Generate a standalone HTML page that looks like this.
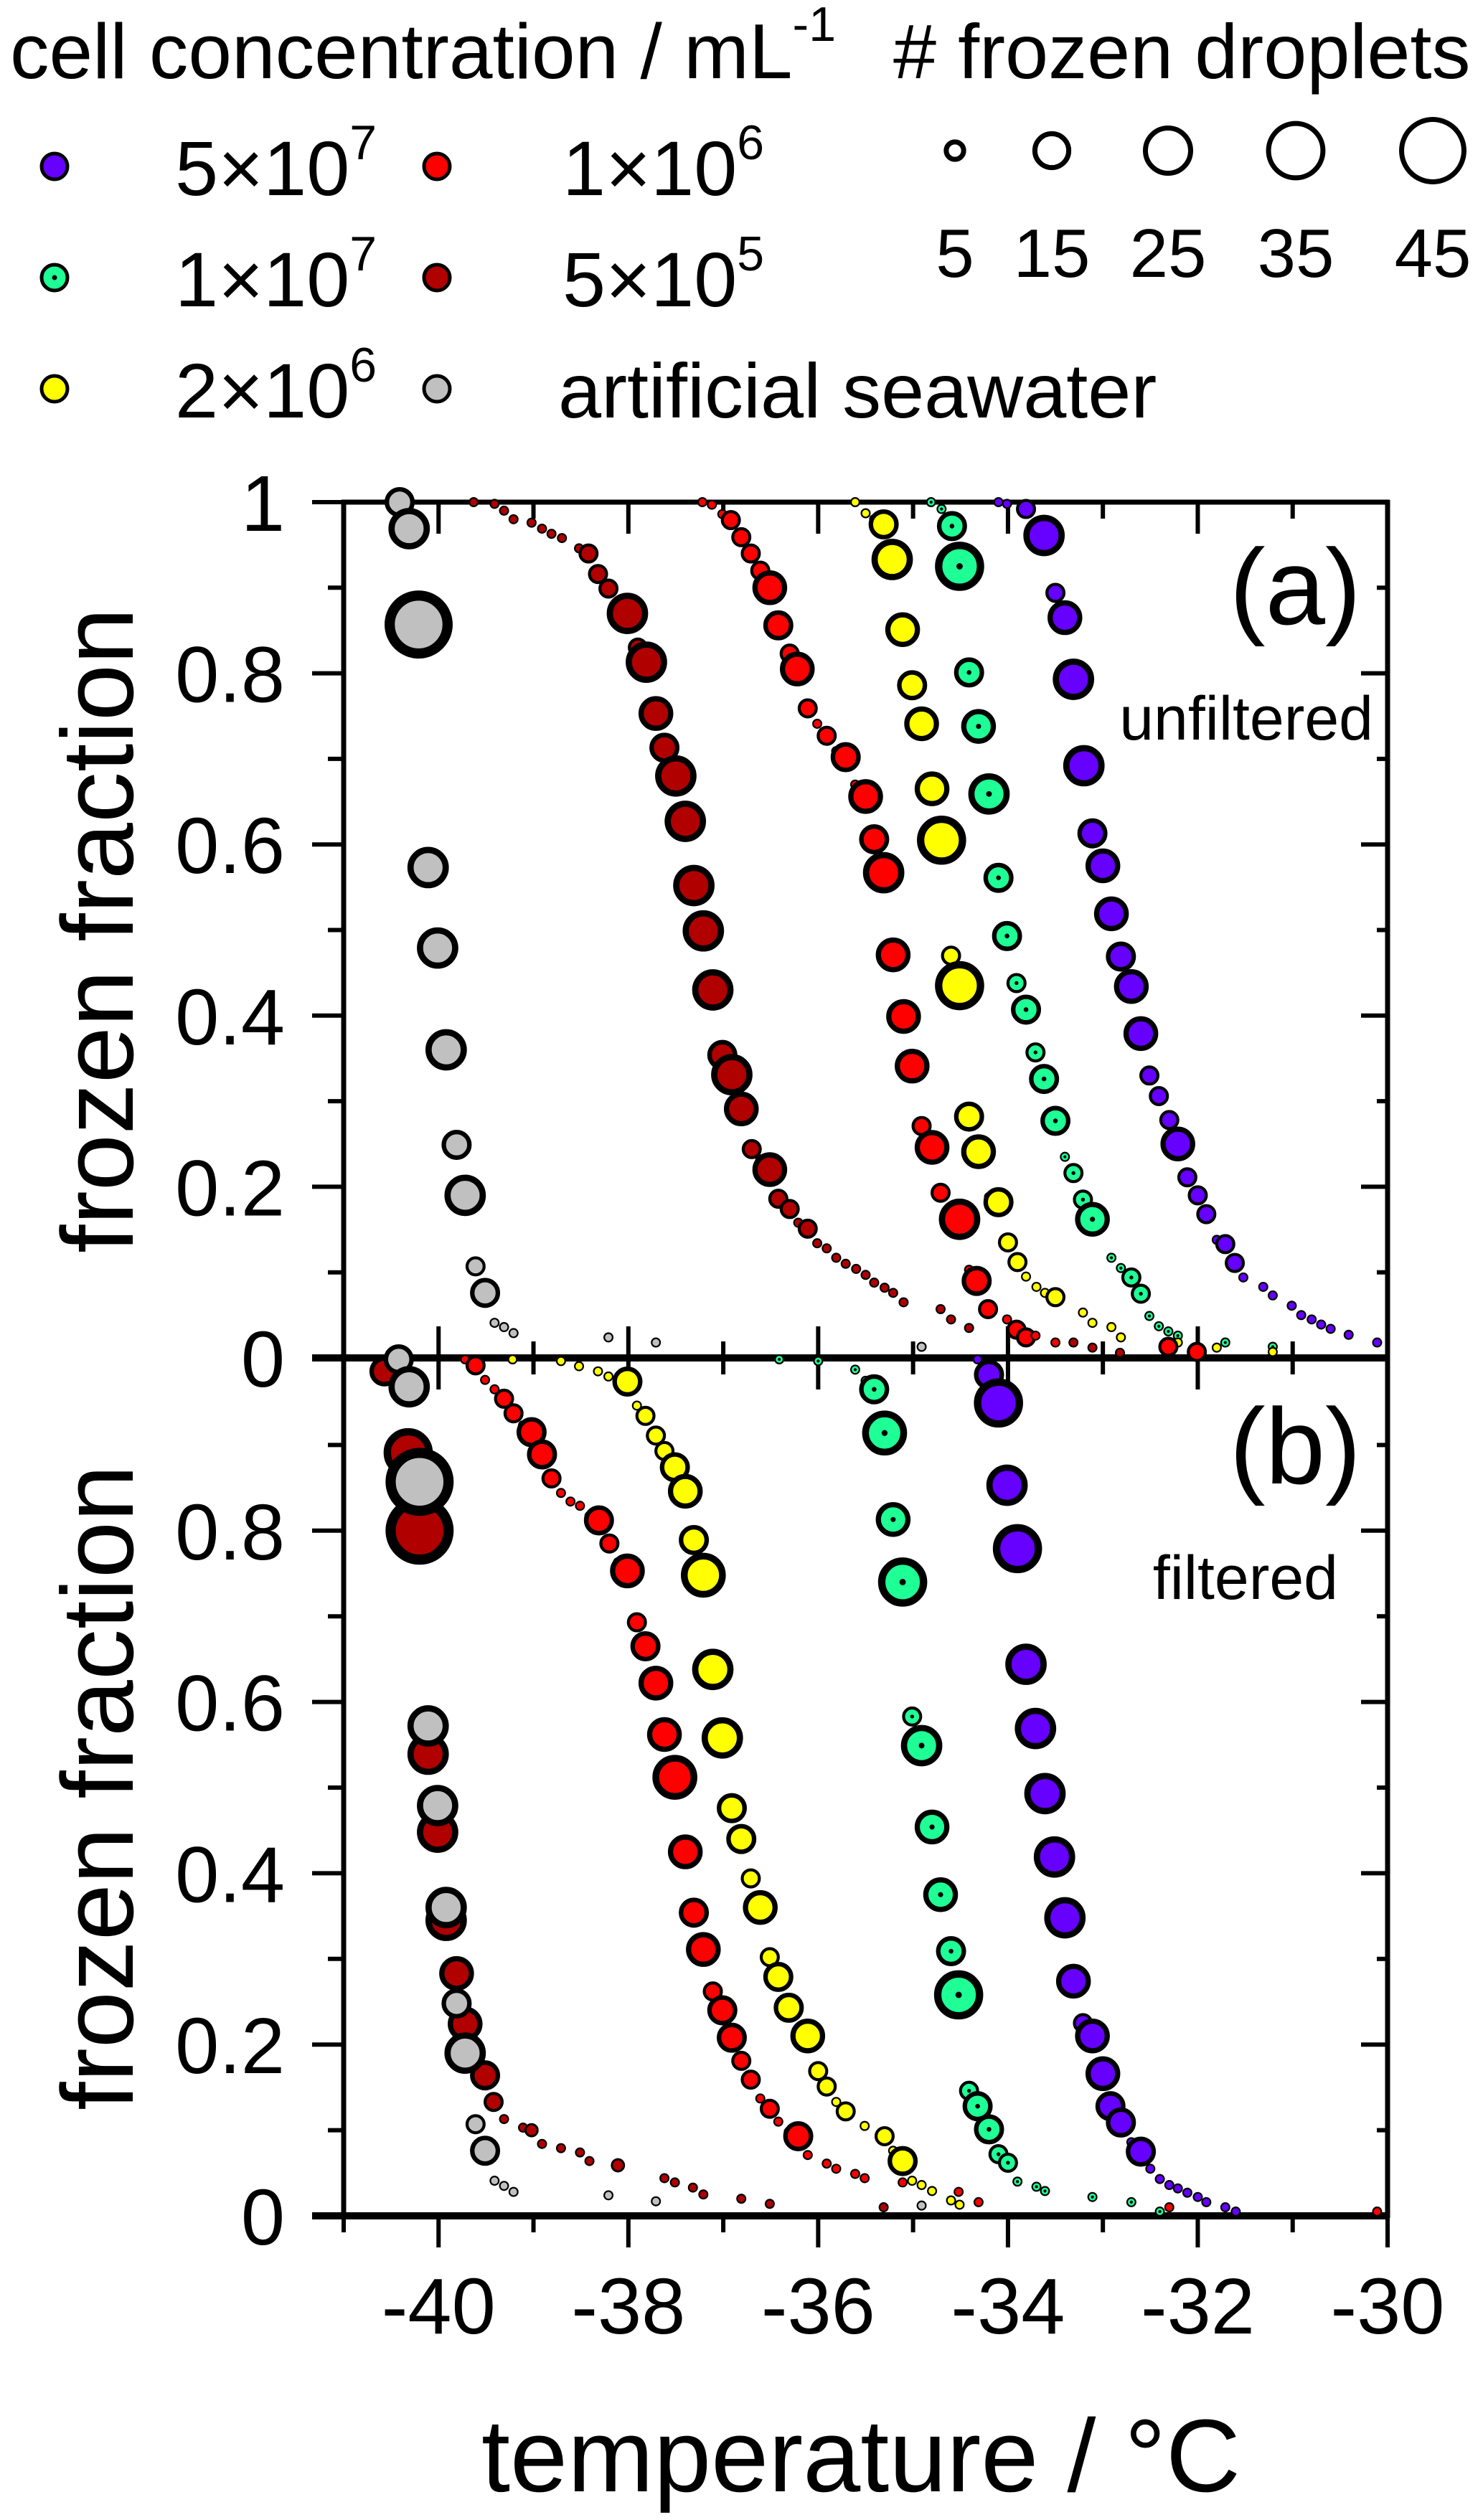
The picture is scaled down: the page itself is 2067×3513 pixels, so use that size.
<!DOCTYPE html>
<html><head><meta charset="utf-8"><style>
html,body{margin:0;padding:0;background:#fff;}
svg{display:block;font-family:"Liberation Sans",Arial,sans-serif;}
</style></head><body>
<svg id="chart" width="2067" height="3513" viewBox="0 0 2067 3513" xmlns="http://www.w3.org/2000/svg">
<rect width="2067" height="3513" fill="#fff"/>
<g id="legend">
 <text x="14" y="109" font-size="109">cell concentration / mL<tspan font-size="68" dy="-52">-1</tspan></text>
 <text x="1245" y="109" font-size="108"># frozen droplets</text>
 <g font-size="108">
  <circle cx="76" cy="232" r="18" fill="#6600ff" stroke="#000" stroke-width="5"/>
  <text x="244" y="272">5×10<tspan font-size="68" dy="-50">7</tspan></text>
  <circle cx="76" cy="387" r="18" fill="#1eff96" stroke="#000" stroke-width="5"/>
  <circle cx="76" cy="387" r="3.5" fill="#000"/>
  <text x="244" y="427">1×10<tspan font-size="68" dy="-50">7</tspan></text>
  <circle cx="76" cy="542" r="18" fill="#ffff00" stroke="#000" stroke-width="5"/>
  <text x="244" y="582">2×10<tspan font-size="68" dy="-50">6</tspan></text>
  <circle cx="609" cy="232" r="18" fill="#ff0000" stroke="#000" stroke-width="5"/>
  <text x="784" y="272">1×10<tspan font-size="68" dy="-50">6</tspan></text>
  <circle cx="609" cy="387" r="18" fill="#b00000" stroke="#000" stroke-width="5"/>
  <text x="784" y="427">5×10<tspan font-size="68" dy="-50">5</tspan></text>
  <circle cx="609" cy="542" r="18" fill="#c0c0c0" stroke="#000" stroke-width="5"/>
  <text x="778" y="582">artificial seawater</text>
 </g>
 <g id="sizeLegend" font-size="96" text-anchor="middle"></g>
</g>
<g id="axes"></g>
<g id="marks"></g>
<text x="1897" y="870" font-size="150" text-anchor="end">(a)</text>
<text x="1914" y="1031" font-size="86" text-anchor="end">unfiltered</text>
<text x="1897" y="2068" font-size="150" text-anchor="end">(b)</text>
<text x="1865" y="2229" font-size="86" text-anchor="end">filtered</text>
<text transform="translate(185,1297) rotate(-90)" font-size="142" text-anchor="middle">frozen fraction</text>
<text transform="translate(185,2492) rotate(-90)" font-size="142" text-anchor="middle">frozen fraction</text>
<text x="1200" y="3473" font-size="144" text-anchor="middle">temperature / °C</text>
</svg>
<script>
// ---- data ----
const sizeLegendCounts = [5, 15, 25, 35, 45];
const xTickLabels = ["-40", "-38", "-36", "-34", "-32", "-30"];
const yTickLabelsA = ["0", "0.2", "0.4", "0.6", "0.8", "1"];
const yTickLabelsB = ["0", "0.2", "0.4", "0.6", "0.8"];

// panel (a) unfiltered
const purpleA_T = [-34.10,-34.01,-33.81,-33.70,-33.62,-33.50,-33.40,-33.31,-33.20,-33.11,-33.00,-32.91,-32.81,-32.70,-32.60,-32.51,-32.41,-32.30,-32.21,-32.11,-32.00,-31.91,-31.80,-31.71,-31.61,-31.52,-31.31,-31.21,-31.01,-30.91,-30.80,-30.70,-30.60,-30.41,-30.11];
const purpleA_F = [1.0,0.998,0.992,0.971,0.961,0.894,0.865,0.793,0.692,0.613,0.575,0.519,0.469,0.434,0.379,0.33,0.306,0.278,0.25,0.211,0.19,0.168,0.138,0.133,0.111,0.094,0.083,0.073,0.061,0.05,0.045,0.039,0.034,0.027,0.018];
const purpleA_N = [1,1,4,1,17,4,12,17,17,9,12,12,9,12,12,4,4,4,12,4,4,4,1,4,4,1,1,1,1,1,1,1,1,1,1];
const greenA_T = [-34.81,-34.70,-34.59,-34.51,-34.41,-34.31,-34.20,-34.10,-34.01,-33.91,-33.81,-33.71,-33.62,-33.50,-33.40,-33.31,-33.21,-33.11,-32.91,-32.81,-32.70,-32.60,-32.51,-32.41,-32.31,-32.21,-31.71,-31.21];
const greenA_F = [1.0,0.992,0.972,0.925,0.801,0.738,0.659,0.561,0.493,0.438,0.407,0.357,0.326,0.277,0.235,0.216,0.185,0.162,0.117,0.105,0.094,0.075,0.049,0.037,0.031,0.026,0.018,0.013];
const greenA_N = [1,1,9,24,9,12,17,9,9,4,9,4,9,9,1,4,4,12,1,1,4,4,1,1,1,1,1,1];
const yellowA_T = [-35.61,-35.50,-35.41,-35.31,-35.22,-35.11,-35.01,-34.91,-34.80,-34.70,-34.60,-34.51,-34.41,-34.31,-34.20,-34.10,-34.00,-33.90,-33.81,-33.70,-33.61,-33.50,-33.21,-33.11,-32.91,-32.81,-32.21,-31.80,-31.21];
const yellowA_F = [1.0,0.987,0.98,0.974,0.933,0.851,0.786,0.741,0.665,0.605,0.47,0.435,0.282,0.241,0.188,0.182,0.135,0.112,0.095,0.083,0.076,0.071,0.053,0.041,0.036,0.024,0.018,0.012,0.007];
const yellowA_N = [1,1,1,9,17,12,9,12,12,24,4,24,9,12,1,9,4,4,1,1,1,4,1,1,1,1,1,1,1];
const redA_T = [-37.22,-37.12,-37.01,-36.92,-36.81,-36.71,-36.61,-36.51,-36.42,-36.30,-36.22,-36.11,-36.01,-35.91,-35.81,-35.71,-35.61,-35.50,-35.41,-35.31,-35.21,-35.10,-35.01,-34.91,-34.80,-34.71,-34.61,-34.51,-34.41,-34.33,-34.21,-34.01,-33.91,-33.81,-33.71,-33.50,-32.31,-32.01];
const redA_F = [1.0,0.997,0.986,0.979,0.959,0.94,0.92,0.90,0.856,0.823,0.805,0.759,0.741,0.727,0.709,0.702,0.67,0.656,0.606,0.567,0.471,0.399,0.341,0.271,0.246,0.193,0.175,0.162,0.103,0.09,0.057,0.045,0.033,0.024,0.026,0.018,0.013,0.007];
const redA_N = [1,1,1,4,4,4,4,12,9,4,12,4,1,4,1,9,1,12,9,17,12,12,12,4,12,4,1,17,1,9,4,1,4,4,1,1,4,4];
const darkredA_T = [-39.63,-39.41,-39.31,-39.21,-39.02,-38.91,-38.81,-38.70,-38.52,-38.42,-38.32,-38.21,-38.11,-38.01,-37.90,-37.81,-37.71,-37.62,-37.50,-37.40,-37.31,-37.21,-37.11,-37.01,-36.91,-36.81,-36.70,-36.61,-36.51,-36.42,-36.30,-36.21,-36.11,-36.01,-35.91,-35.81,-35.71,-35.60,-35.50,-35.41,-35.30,-35.21,-35.10,-34.71,-34.60,-34.41,-33.31,-33.11,-32.82];
const darkredA_F = [1.0,0.998,0.99,0.98,0.976,0.969,0.963,0.958,0.946,0.94,0.916,0.899,0.882,0.87,0.83,0.813,0.753,0.713,0.68,0.627,0.552,0.499,0.43,0.354,0.331,0.291,0.244,0.232,0.22,0.186,0.174,0.158,0.151,0.134,0.128,0.117,0.11,0.104,0.097,0.088,0.082,0.076,0.065,0.057,0.045,0.035,0.018,0.012,0.006];
const darkredA_N = [1,1,1,1,1,1,1,1,1,4,4,4,1,17,4,17,12,9,17,17,17,17,17,9,17,12,4,1,12,4,4,1,4,1,1,1,1,1,1,1,1,1,1,1,1,1,1,1,1];
const grayA_T = [-40.41,-40.31,-40.21,-40.11,-40.01,-39.92,-39.81,-39.72,-39.61,-39.51,-39.41,-39.31,-39.21,-38.21,-37.71,-34.91];
const grayA_F = [1.0,0.969,0.857,0.573,0.479,0.360,0.249,0.190,0.107,0.076,0.041,0.036,0.029,0.024,0.018,0.013];
const grayA_N = [9,17,46,17,17,17,9,17,4,9,1,1,1,1,1,1];

// panel (b) filtered
const purpleB_T = [-34.32,-34.20,-34.10,-34.01,-33.90,-33.81,-33.71,-33.61,-33.51,-33.40,-33.31,-33.21,-33.11,-33.00,-32.92,-32.81,-32.70,-32.60,-32.50,-32.40,-32.30,-32.21,-32.11,-32.00,-31.91,-31.71,-31.60];
const purpleB_F = [1.0,0.982,0.949,0.853,0.779,0.644,0.569,0.493,0.419,0.348,0.274,0.225,0.21,0.166,0.128,0.109,0.086,0.075,0.055,0.043,0.036,0.032,0.027,0.022,0.016,0.01,0.005];
const purpleB_N = [1,9,24,17,24,17,17,17,17,17,12,4,12,12,9,9,1,9,1,1,1,1,1,1,1,1,1];
const greenB_T = [-36.41,-36.00,-35.61,-35.50,-35.41,-35.30,-35.21,-35.11,-35.01,-34.91,-34.80,-34.71,-34.60,-34.52,-34.41,-34.32,-34.20,-34.10,-34.00,-33.90,-33.70,-33.61,-33.11,-32.70,-32.40];
const greenB_F = [1.0,0.998,0.988,0.975,0.965,0.914,0.813,0.74,0.583,0.549,0.454,0.375,0.309,0.258,0.146,0.128,0.101,0.072,0.062,0.04,0.034,0.029,0.022,0.016,0.005];
const greenB_N = [1,1,1,1,9,20,12,24,4,17,12,12,9,24,4,9,9,4,4,1,1,1,1,1,1];
const yellowB_T = [-39.22,-38.71,-38.52,-38.32,-38.21,-38.01,-37.91,-37.82,-37.71,-37.62,-37.51,-37.40,-37.31,-37.21,-37.11,-37.01,-36.91,-36.81,-36.71,-36.61,-36.51,-36.42,-36.31,-36.21,-36.11,-36.00,-35.91,-35.81,-35.71,-35.51,-35.30,-35.21,-35.11,-35.01,-34.91,-34.80,-34.60,-34.51];
const yellowB_F = [1.0,0.998,0.992,0.986,0.98,0.974,0.946,0.934,0.911,0.893,0.874,0.846,0.789,0.748,0.638,0.558,0.476,0.44,0.394,0.36,0.302,0.279,0.243,0.215,0.21,0.169,0.151,0.133,0.122,0.105,0.093,0.076,0.064,0.041,0.036,0.029,0.018,0.013];
const yellowB_N = [1,1,1,1,1,9,1,4,4,4,9,12,9,20,17,17,9,9,4,12,4,9,9,1,12,4,4,1,4,1,4,1,9,1,1,1,1,1];
const redB_T = [-39.72,-39.61,-39.51,-39.41,-39.31,-39.21,-39.11,-39.02,-38.91,-38.81,-38.71,-38.61,-38.51,-38.41,-38.31,-38.20,-38.11,-38.01,-37.91,-37.82,-37.71,-37.62,-37.51,-37.40,-37.31,-37.21,-37.11,-37.01,-36.91,-36.81,-36.71,-36.61,-36.51,-36.42,-36.31,-36.21,-36.11,-35.91,-35.81,-35.61,-35.51,-35.11,-34.52,-34.31,-32.30,-30.11];
const redB_F = [1.0,0.993,0.976,0.965,0.954,0.937,0.923,0.915,0.889,0.861,0.844,0.834,0.829,0.817,0.812,0.785,0.763,0.753,0.693,0.665,0.622,0.562,0.512,0.425,0.354,0.311,0.262,0.24,0.208,0.181,0.159,0.137,0.125,0.11,0.098,0.093,0.071,0.061,0.055,0.049,0.044,0.039,0.028,0.016,0.01,0.005];
const redB_N = [1,4,1,1,4,4,1,9,9,4,1,1,1,1,9,4,1,12,4,9,12,12,20,12,9,12,4,9,9,4,4,1,4,1,1,9,1,1,1,1,1,1,1,1,1,1];
const darkredB_T = [-40.57,-40.32,-40.20,-40.11,-40.01,-39.92,-39.81,-39.72,-39.51,-39.42,-39.31,-39.11,-39.02,-38.91,-38.71,-38.51,-38.41,-38.11,-37.62,-37.51,-37.32,-37.21,-36.81,-36.51,-35.31];
const darkredB_F = [0.986,0.891,0.80,0.539,0.448,0.345,0.283,0.224,0.164,0.133,0.113,0.103,0.10,0.084,0.079,0.074,0.064,0.059,0.044,0.039,0.033,0.025,0.02,0.014,0.01];
const darkredB_N = [9,24,46,17,17,17,12,12,9,4,1,1,2,1,1,1,1,2,1,1,1,1,1,1,1];
const grayB_T = [-40.42,-40.31,-40.20,-40.11,-40.01,-39.92,-39.81,-39.72,-39.61,-39.51,-39.41,-39.31,-39.21,-38.21,-37.71,-34.91];
const grayB_F = [1.0,0.968,0.857,0.572,0.479,0.360,0.248,0.19,0.107,0.076,0.041,0.035,0.028,0.024,0.017,0.012];
const grayB_N = [9,17,46,17,17,17,9,17,4,9,1,1,1,1,1,1];

// ---- scales ----
const NS = "http://www.w3.org/2000/svg";
const X0 = 479, X1 = 1934, TMIN = -41, TMAX = -30;
const xScale = t => X0 + (t - TMIN) / (TMAX - TMIN) * (X1 - X0);
const panels = {a: {top: 700, bottom: 1893}, b: {top: 1895, bottom: 3089}};
const yScale = (p, f) => panels[p].bottom - f * (panels[p].bottom - panels[p].top);
const rOuter = n => 7 * Math.sqrt(n);
const sw = n => Math.max(2.2, 2.1 * Math.sqrt(n));

function mk(tag, attrs, parent) {
  const e = document.createElementNS(NS, tag);
  for (const k in attrs) e.setAttribute(k, attrs[k]);
  parent.appendChild(e);
  return e;
}

// ---- axes ----
const axes = document.getElementById('axes');
function line(x1, y1, x2, y2, w, name) {
  const l = mk('line', {x1, y1, x2, y2, stroke: '#000', 'stroke-width': w}, axes);
  
  
}
line(X0, 697, X0, 3092, 7, 'left-axis');
line(X1, 697, X1, 3092, 7, 'right-axis');
line(X0 - 3, 700, X1 + 3, 700, 7, 'top-axis');
line(X0 - 44, 1893, X1 + 3, 1893, 10, 'middle-axis');
line(X0 - 44, 3089, X1 + 3, 3089, 10, 'bottom-axis');

for (let t = -41; t <= -30; t++) {
  const x = xScale(t);
  const major = (t % 2 === 0);
  const L = major ? 44 : 23;
  line(x, 700, x, 700 + L, 6, 'x-tick-top-a');
  line(x, 1893, x, 1893 - L, 6, 'x-tick-bottom-a');
  line(x, 1893, x, 1893 + L, 6, 'x-tick-top-b');
  line(x, 3089, x, 3089 + L, 6, 'x-tick-bottom-b');
}
xTickLabels.forEach((lab) => {
  const t = parseFloat(lab);
  const tx = mk('text', {x: xScale(t), y: 3253, 'font-size': 110, 'text-anchor': 'middle'}, axes);
  
  
  tx.textContent = lab;
});
['a', 'b'].forEach(p => {
  for (let i = 0; i <= 10; i++) {
    if (p === 'b' && i === 10) continue;
    const y = yScale(p, i / 10);
    const major = i % 2 === 0;
    line(X0 - (major ? 44 : 22), y, X0, y, 6, 'y-tick-left-' + p);
    line(X1 - (major ? 37 : 15), y, X1, y, 6, 'y-tick-right-' + p);
  }
  const labs = p === 'a' ? yTickLabelsA : yTickLabelsB;
  labs.forEach(lab => {
    const tx = mk('text', {x: 397, y: yScale(p, parseFloat(lab)) + 40, 'font-size': 110, 'text-anchor': 'end'}, axes);
    
    
    tx.textContent = lab;
  });
});

// ---- size legend ----
const sl = document.getElementById('sizeLegend');
const slX = [1331, 1466, 1628, 1806, 1997];
sizeLegendCounts.forEach((n, i) => {
  const c = mk('circle', {cx: slX[i], cy: 210, r: rOuter(n) - 3.5, fill: '#fff', stroke: '#000', 'stroke-width': 7}, sl);
  
  
  const tx = mk('text', {x: slX[i], y: 386}, sl);
  
  
  tx.textContent = String(n);
});

// ---- marks ----
const marks = document.getElementById('marks');
function series(p, name, color, T, F, N, dot) {
  const g = mk('g', {}, marks);
  
  
  const len = Math.min(T.length, F.length, N.length);
  for (let i = 0; i < len; i++) {
    const n = N[i], w = sw(n);
    const cx = xScale(T[i]), cy = yScale(p, F[i]);
    const c = mk('circle', {cx, cy, r: rOuter(n) - w / 2, fill: color, stroke: '#000', 'stroke-width': w}, g);
    
    
    if (dot) {
      const d = mk('circle', {cx, cy, r: 1.5 + 0.6 * Math.sqrt(n), fill: '#000'}, g);
      
      
    }
  }
}
series('a', 'purple-5e7', '#6600ff', purpleA_T, purpleA_F, purpleA_N, false);
series('a', 'green-1e7', '#1eff96', greenA_T, greenA_F, greenA_N, true);
series('a', 'yellow-2e6', '#ffff00', yellowA_T, yellowA_F, yellowA_N, false);
series('a', 'red-1e6', '#ff0000', redA_T, redA_F, redA_N, false);
series('a', 'darkred-5e5', '#b00000', darkredA_T, darkredA_F, darkredA_N, false);
series('a', 'gray-seawater', '#c0c0c0', grayA_T, grayA_F, grayA_N, false);
series('b', 'purple-5e7', '#6600ff', purpleB_T, purpleB_F, purpleB_N, false);
series('b', 'green-1e7', '#1eff96', greenB_T, greenB_F, greenB_N, true);
series('b', 'yellow-2e6', '#ffff00', yellowB_T, yellowB_F, yellowB_N, false);
series('b', 'red-1e6', '#ff0000', redB_T, redB_F, redB_N, false);
series('b', 'darkred-5e5', '#b00000', darkredB_T, darkredB_F, darkredB_N, false);
series('b', 'gray-seawater', '#c0c0c0', grayB_T, grayB_F, grayB_N, false);
</script>
</body></html>
